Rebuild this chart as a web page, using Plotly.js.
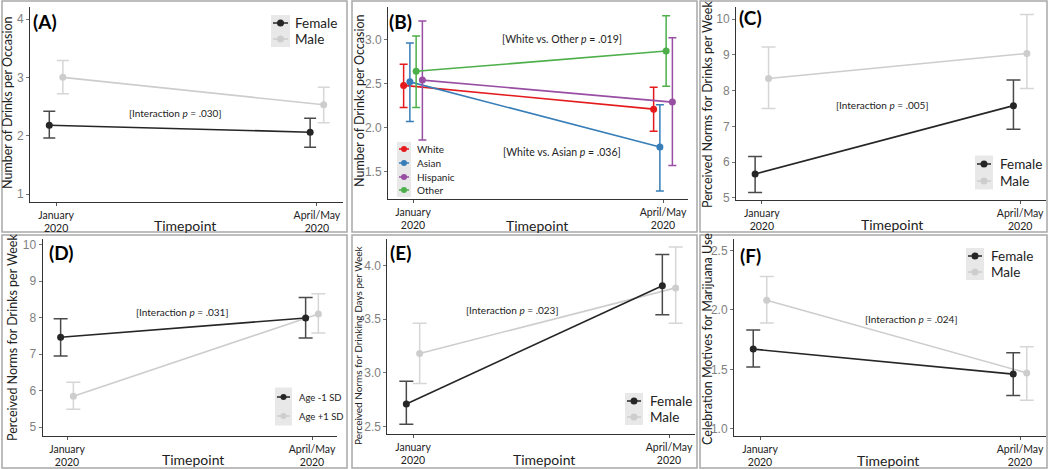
<!DOCTYPE html>
<html><head><meta charset="utf-8">
<script src="https://cdn.plot.ly/plotly-3.0.1.min.js"></script>
<style>html,body{margin:0;padding:0;background:#fff}#chart{width:1050px;height:469px}</style>
</head><body><div id="chart"></div>
<script>
// ---------------- data ----------------
const timeLabels = ["January<br>2020", "April/May<br>2020"];
const timeIdx = [1, 2];

// (A) Number of drinks per occasion by sex
const aFemale = [2.18, 2.06], aFemaleLo = [1.96, 1.80], aFemaleHi = [2.42, 2.30];
const aMale = [3.00, 2.53], aMaleLo = [2.72, 2.22], aMaleHi = [3.29, 2.83];

// (B) Number of drinks per occasion by race/ethnicity
const bGroups = ["White", "Asian", "Hispanic", "Other"];
const bWhite = [2.48, 2.21], bWhiteLo = [2.23, 1.96], bWhiteHi = [2.72, 2.46];
const bAsian = [2.52, 1.78], bAsianLo = [2.07, 1.28], bAsianHi = [2.96, 2.26];
const bHispanic = [2.54, 2.29], bHispanicLo = [1.86, 1.57], bHispanicHi = [3.21, 3.02];
const bOther = [2.64, 2.87], bOtherLo = [2.23, 2.47], bOtherHi = [3.04, 3.27];

// (C) Perceived norms for drinks per week by sex
const cFemale = [5.67, 7.58], cFemaleLo = [5.15, 6.92], cFemaleHi = [6.16, 8.30];
const cMale = [8.34, 9.04], cMaleLo = [7.50, 8.06], cMaleHi = [9.22, 10.13];

// (D) Perceived norms for drinks per week by age
const dYoung = [7.46, 7.99], dYoungLo = [6.95, 7.44], dYoungHi = [7.97, 8.55];
const dOld = [5.85, 8.10], dOldLo = [5.49, 7.58], dOldHi = [6.23, 8.65];

// (E) Perceived norms for drinking days per week by sex
const eFemale = [2.71, 3.81], eFemaleLo = [2.52, 3.54], eFemaleHi = [2.92, 4.10];
const eMale = [3.18, 3.79], eMaleLo = [2.90, 3.46], eMaleHi = [3.46, 4.17];

// (F) Celebration motives for marijuana use by sex
const fFemale = [1.67, 1.46], fFemaleLo = [1.52, 1.28], fFemaleHi = [1.83, 1.64];
const fMale = [2.08, 1.47], fMaleLo = [1.89, 1.24], fMaleHi = [2.28, 1.69];

const pTexts = {
  A: "[Interaction <i>p</i> = .030]",
  B1: "[White vs. Other <i>p</i> = .019]",
  B2: "[White vs. Asian <i>p</i> = .036]",
  C: "[Interaction <i>p</i> = .005]",
  D: "[Interaction <i>p</i> = .031]",
  E: "[Interaction <i>p</i> = .023]",
  F: "[Interaction <i>p</i> = .024]"
};

// ---------------- style / layout ----------------
const W = 1050, H = 469;
const px = x => x / W, py = y => 1 - y / H;
const FONT = "Lato, 'Open Sans', sans-serif";
const TICKFONT = "'Liberation Sans', Arial, sans-serif";
const DARK = "#262626", LIGHT = "#cdcdcd", DARKERR = "#4a4a4a", LIGHTERR = "#d6d6d6";
const COLS = {White: "#e41a1c", Asian: "#377eb8", Hispanic: "#984ea3", Other: "#4daf4a"};

function tr(n, vals, lo, hi, off, color, errColor, capw) {
  const s = n === 1 ? "" : String(n);
  return {
    type: "scatter", mode: "lines+markers", xaxis: "x" + s, yaxis: "y" + s,
    x: timeIdx.map(t => t + off), y: vals,
    line: {color: color, width: 1.6}, marker: {color: color, size: 7},
    error_y: {type: "data", symmetric: false,
      array: hi.map((h, i) => h - vals[i]), arrayminus: vals.map((v, i) => v - lo[i]),
      color: errColor, thickness: 1.5, width: capw},
    showlegend: false, hoverinfo: "skip", cliponaxis: false
  };
}

const d2 = 0.026, d4 = 0.025;
const traces = [
  tr(1, aMale, aMaleLo, aMaleHi, d2, LIGHT, LIGHTERR, 6),
  tr(1, aFemale, aFemaleLo, aFemaleHi, -d2, DARK, DARKERR, 6),
  tr(2, bWhite, bWhiteLo, bWhiteHi, -1.5 * d4, COLS.White, COLS.White, 4),
  tr(2, bAsian, bAsianLo, bAsianHi, -0.5 * d4, COLS.Asian, COLS.Asian, 4),
  tr(2, bHispanic, bHispanicLo, bHispanicHi, 1.5 * d4, COLS.Hispanic, COLS.Hispanic, 4),
  tr(2, bOther, bOtherLo, bOtherHi, 0.5 * d4, COLS.Other, COLS.Other, 4),
  tr(3, cMale, cMaleLo, cMaleHi, d2, LIGHT, LIGHTERR, 7),
  tr(3, cFemale, cFemaleLo, cFemaleHi, -d2, DARK, DARKERR, 7),
  tr(4, dOld, dOldLo, dOldHi, d2, LIGHT, LIGHTERR, 7),
  tr(4, dYoung, dYoungLo, dYoungHi, -d2, DARK, DARKERR, 7),
  tr(5, eMale, eMaleLo, eMaleHi, d2, LIGHT, LIGHTERR, 7),
  tr(5, eFemale, eFemaleLo, eFemaleHi, -d2, DARK, DARKERR, 7),
  tr(6, fMale, fMaleLo, fMaleHi, d2, LIGHT, LIGHTERR, 7),
  tr(6, fFemale, fFemaleLo, fFemaleHi, -d2, DARK, DARKERR, 7)
];

// panel geometry in pixels: plot x-domain, plot y-domain (top,bottom), y range, y ticks
const panels = [
  {xd: [30, 343], yd: [7, 202], yr: [0.863, 4.206], yt: [1, 2, 3, 4], fmt: "d"},
  {xd: [388, 688], yd: [7, 199], yr: [1.19, 3.37], yt: [1.5, 2.0, 2.5, 3.0], fmt: ".1f"},
  {xd: [736, 1046], yd: [7, 200], yr: [4.94, 10.34], yt: [5, 6, 7, 8, 9, 10], fmt: "d"},
  {xd: [42.5, 336.5], yd: [239, 436], yr: [4.76, 10.15], yt: [5, 6, 7, 8, 9, 10], fmt: "d"},
  {xd: [387.4, 694.6], yd: [239, 434], yr: [2.43, 4.245], yt: [2.5, 3.0, 3.5, 4.0], fmt: ".1f"},
  {xd: [734, 1046], yd: [239, 436], yr: [0.94, 2.595], yt: [1.0, 1.5, 2.0, 2.5], fmt: ".1f"}
];

const layout = {
  width: W, height: H, margin: {l: 0, r: 0, t: 0, b: 0},
  paper_bgcolor: "#fff", plot_bgcolor: "rgba(0,0,0,0)",
  showlegend: false, font: {family: FONT, color: "#222"},
  shapes: [], annotations: []
};

panels.forEach((p, i) => {
  const s = i === 0 ? "" : String(i + 1);
  layout["xaxis" + s] = {
    domain: [px(p.xd[0]), px(p.xd[1])], range: [0.9, 2.1], anchor: "y" + s,
    tickmode: "array", tickvals: timeIdx, ticktext: timeLabels,
    showline: true, linecolor: "#333", linewidth: 1, ticks: "outside", ticklen: 3,
    tickcolor: "#555", showgrid: false, zeroline: false, fixedrange: true,
    tickfont: {family: FONT, size: 10.5, color: "#222"}
  };
  layout["yaxis" + s] = {
    domain: [py(p.yd[1]), py(p.yd[0])], range: p.yr, anchor: "x" + s,
    tickmode: "array", tickvals: p.yt, tickformat: p.fmt,
    showline: true, linecolor: "#333", linewidth: 1, ticks: "outside", ticklen: 3,
    tickcolor: "#777", showgrid: false, zeroline: false, fixedrange: true,
    tickfont: {family: TICKFONT, size: 12, color: "#808080"}
  };
});

// panel frames
const boxes = [[2, 1, 347, 232], [352, 1, 697, 232], [700, 1, 1047, 232],
               [2, 235, 347, 468], [352, 235, 697, 468], [700, 235, 1047, 468]];
boxes.forEach(b => layout.shapes.push({type: "rect", xref: "paper", yref: "paper",
  x0: px(b[0]), x1: px(b[2]), y0: py(b[3]), y1: py(b[1]),
  line: {color: "#a8a8a8", width: 1.5}, fillcolor: "rgba(0,0,0,0)", layer: "below"}));

function ann(text, x, y, size, opts) {
  layout.annotations.push(Object.assign({text: text, xref: "paper", yref: "paper",
    x: px(x), y: py(y), showarrow: false, xanchor: "center", yanchor: "middle",
    font: {family: FONT, size: size, color: "#222"}}, opts || {}));
}

// panel letters
[["(A)", 31, 22], ["(B)", 387, 22], ["(C)", 737, 18], ["(D)", 47, 252], ["(E)", 388, 252], ["(F)", 738, 255]]
  .forEach(l => ann("<b>" + l[0] + "</b>", l[1], l[2], 19, {xanchor: "left", font: {family: FONT, size: 19, color: "#000"}}));

// axis titles
[[185, 225], [537, 225], [892, 224], [193, 459], [544, 459], [888, 460]]
  .forEach(t => ann("Timepoint", t[0], t[1], 14));
const yTitles = [
  ["Number of Drinks per Occasion", 8, 103, 12.5],
  ["Number of Drinks per Occasion", 359, 101, 12.5],
  ["Perceived Norms for Drinks per Week", 708, 105, 12.5],
  ["Perceived Norms for Drinks per Week", 12, 338, 12.5],
  ["Perceived Norms for Drinking Days per Week", 358, 345, 10],
  ["Celebration Motives for Marijuana Use", 707, 339, 12.5]
];
yTitles.forEach(t => ann(t[0], t[1], t[2], t[3], {textangle: -90}));

// p-value notes
ann(pTexts.A, 175, 113, 10);
ann(pTexts.B1, 562, 39, 10.5);
ann(pTexts.B2, 562, 152, 10.5);
ann(pTexts.C, 882, 105, 10);
ann(pTexts.D, 182, 312, 10);
ann(pTexts.E, 512, 310, 10);
ann(pTexts.F, 911, 319, 10);

// ggplot-like legends (grey key boxes)
function legend(x0, x1, rows, labels, colors, size, textX) {
  const h = rows.length > 1 ? rows[1] - rows[0] : 16;
  layout.shapes.push({type: "rect", xref: "paper", yref: "paper", layer: "below",
    x0: px(x0), x1: px(x1), y0: py(rows[rows.length - 1] + h / 2), y1: py(rows[0] - h / 2),
    line: {width: 0}, fillcolor: "#e8e8e8"});
  rows.forEach((r, i) => {
    layout.shapes.push({type: "line", xref: "paper", yref: "paper", layer: "above",
      x0: px(x0 + 2), x1: px(x1 - 2), y0: py(r), y1: py(r), line: {color: colors[i], width: 1.5}});
    const cx = (x0 + x1) / 2, rr = size > 12 ? 3.5 : 3;
    layout.shapes.push({type: "circle", xref: "paper", yref: "paper", layer: "above",
      x0: px(cx - rr), x1: px(cx + rr), y0: py(r + rr), y1: py(r - rr),
      line: {width: 0}, fillcolor: colors[i]});
    ann(labels[i], textX, r, size, {xanchor: "left"});
  });
}
legend(271, 290, [23, 39], ["Female", "Male"], [DARK, LIGHT], 13.5, 293);
legend(397, 411, [149, 163, 177, 190], bGroups, bGroups.map(g => COLS[g]), 10, 415);
legend(975, 993, [164, 181], ["Female", "Male"], [DARK, LIGHT], 13.5, 998);
legend(275, 292, [397, 416], ["Age -1 SD", "Age +1 SD"], [DARK, LIGHT], 9.5, 297);
legend(625, 643, [401, 417], ["Female", "Male"], [DARK, LIGHT], 13.5, 648);
legend(966, 984, [256, 272], ["Female", "Male"], [DARK, LIGHT], 13.5, 989);

Plotly.newPlot("chart", traces, layout, {displayModeBar: false, staticPlot: true});
</script>
</body></html>
